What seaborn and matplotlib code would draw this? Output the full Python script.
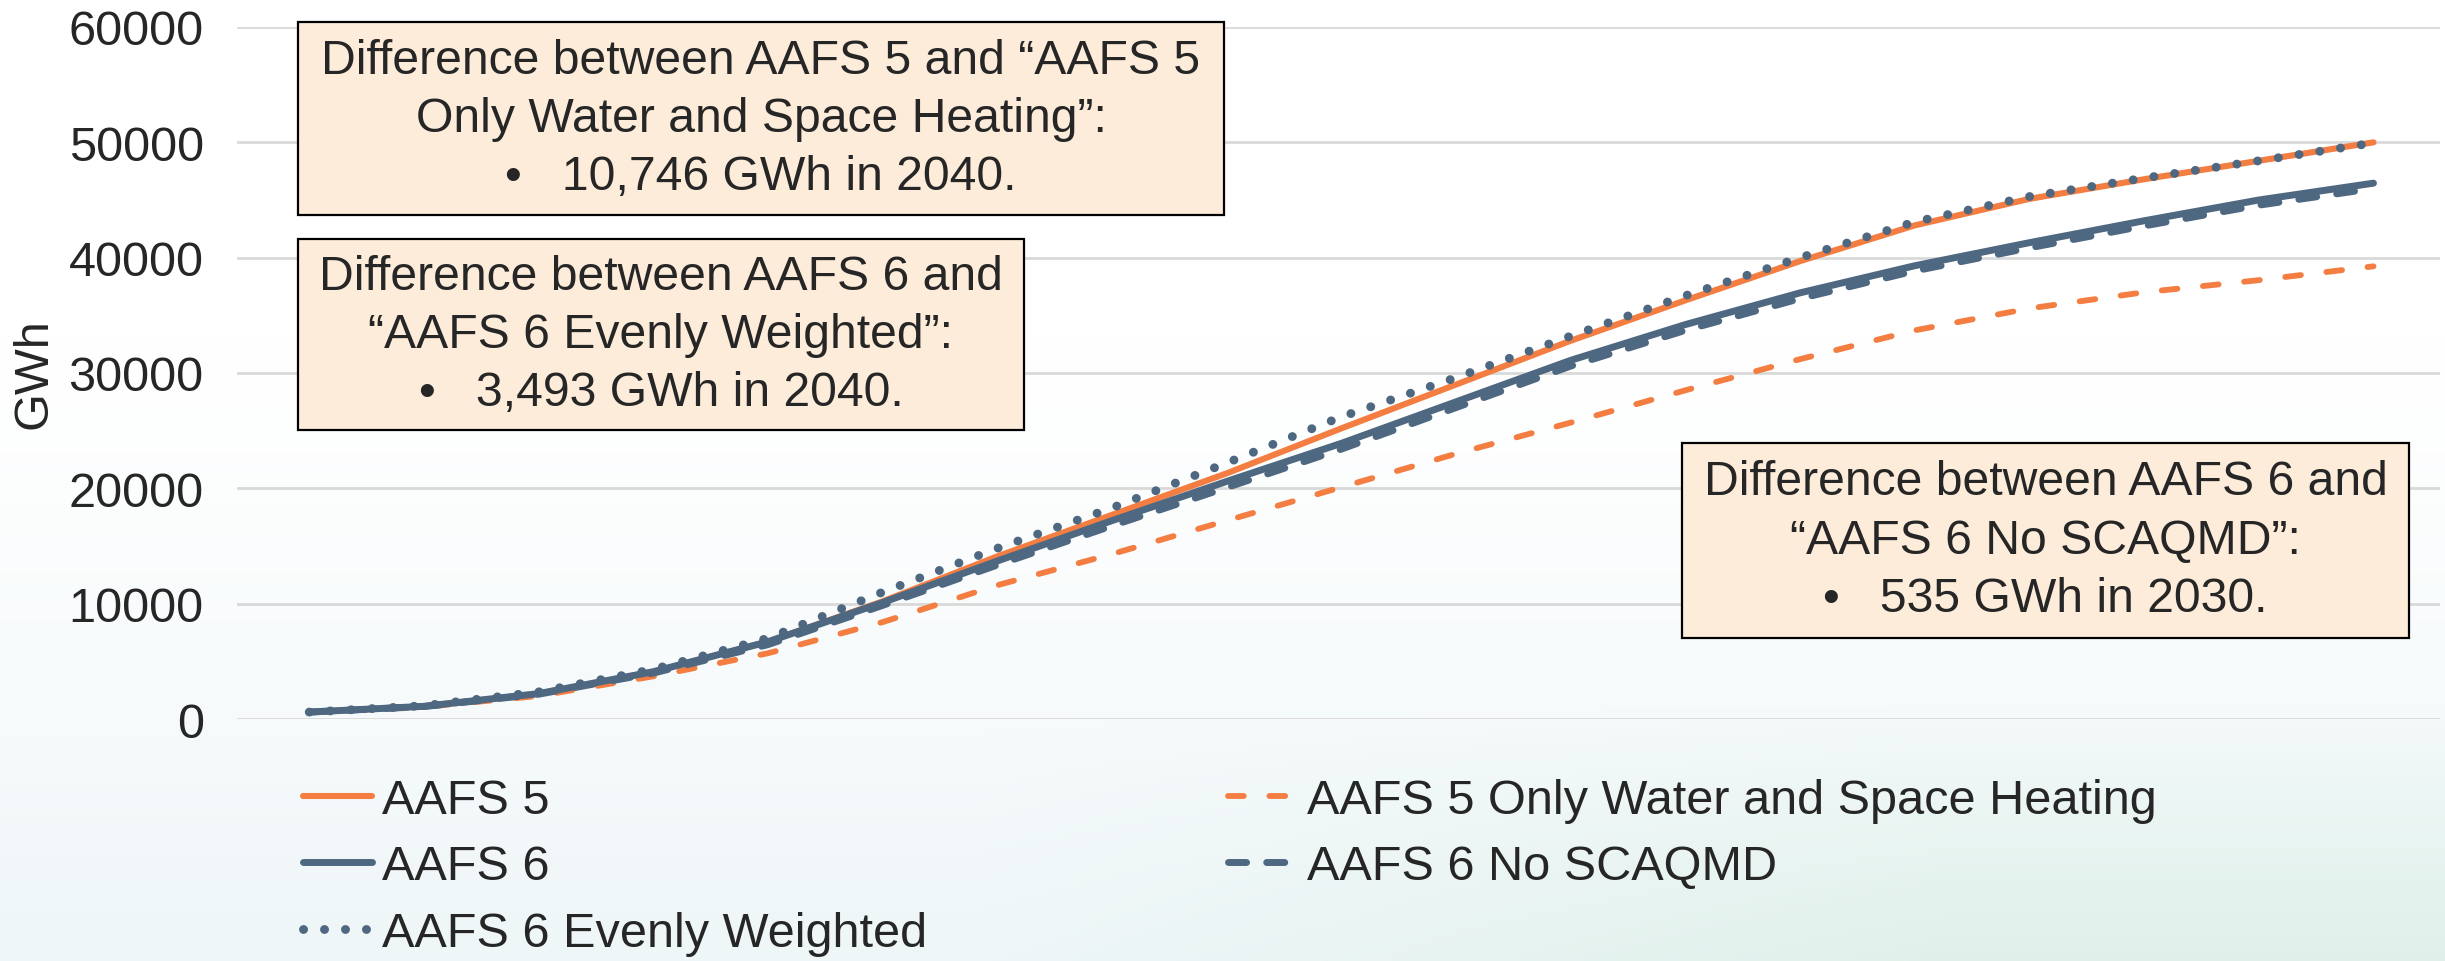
import matplotlib.pyplot as plt
import numpy as np
import pandas as pd
import seaborn as sns
from matplotlib.patches import Rectangle

# --- data (GWh) ---
years = list(range(2022, 2041))
aafs5 = [600, 1100, 2200, 4100, 6700, 10200, 14100, 17700, 21300, 25200, 29000,
         32800, 36300, 39700, 42800, 45100, 46800, 48400, 50000]
aafs5_water_space = [600, 1050, 2000, 3700, 5700, 8400, 11600, 14300, 17200, 20100,
                     23000, 25700, 28500, 31200, 33700, 35600, 37000, 38050, 39250]
aafs6 = [600, 1100, 2200, 4100, 6700, 10100, 13700, 17200, 20600, 23900, 27500,
         31100, 34200, 36950, 39300, 41300, 43200, 45000, 46460]
aafs6_no_scaqmd = [600, 1080, 2150, 3980, 6450, 9850, 13350, 16750, 20065, 23400,
                   27000, 30600, 33700, 36450, 38850, 40850, 42750, 44550, 46000]
aafs6_even = [600, 1150, 2350, 4300, 7000, 11000, 14800, 18300, 22200, 26200, 29600,
              33200, 36700, 40000, 43100, 45300, 46900, 48400, 49950]

series_names = ["AAFS 5", "AAFS 5 Only Water and Space Heating", "AAFS 6 No SCAQMD",
                "AAFS 6", "AAFS 6 Evenly Weighted"]
series_values = [aafs5, aafs5_water_space, aafs6_no_scaqmd, aafs6, aafs6_even]
legend_order = ["AAFS 5", "AAFS 6", "AAFS 6 Evenly Weighted",
                "AAFS 5 Only Water and Space Heating", "AAFS 6 No SCAQMD"]

notes = [
    (["Difference between AAFS 5 and \u201cAAFS 5",
      "Only Water and Space Heating\u201d:",
      "\u2022   10,746 GWh in 2040."], (298, 23, 1224, 216)),
    (["Difference between AAFS 6 and",
      "\u201cAAFS 6 Evenly Weighted\u201d:",
      "\u2022   3,493 GWh in 2040."], (298, 240, 1024, 431)),
    (["Difference between AAFS 6 and",
      "\u201cAAFS 6 No SCAQMD\u201d:",
      "\u2022   535 GWh in 2030."], (1682, 444, 2409, 639)),
]

ORANGE = "#F47D41"
SLATE = "#4F6881"
styles = {
    "AAFS 5": dict(color=ORANGE, linewidth=4.4, linestyle="-", solid_capstyle="round"),
    "AAFS 5 Only Water and Space Heating": dict(color=ORANGE, linewidth=4.2,
                                                linestyle=(0, (2.7, 4.4)), dash_capstyle="round"),
    "AAFS 6 No SCAQMD": dict(color=SLATE, linewidth=5.0,
                             linestyle=(0, (2.6, 2.9)), dash_capstyle="round"),
    "AAFS 6": dict(color=SLATE, linewidth=5.0, linestyle="-", solid_capstyle="round"),
    "AAFS 6 Evenly Weighted": dict(color=SLATE, linewidth=6.4,
                                   linestyle=(0, (0.01, 2.35)), dash_capstyle="round"),
}

df = pd.DataFrame({
    "year": np.tile(years, len(series_names)),
    "GWh": np.concatenate(series_values),
    "scenario": np.repeat(series_names, len(years)),
})

sns.set_style("white")
plt.rcParams["font.family"] = ["Liberation Sans", "DejaVu Sans"]

W, H = 2445, 962
fig = plt.figure(figsize=(W / 100, H / 100), dpi=100)

# soft slide background
bg = fig.add_axes([0, 0, 1, 1], zorder=-10)
yy, xx = np.mgrid[0:1:240j, 0:1:600j]
t = np.clip((yy - 0.35) / 0.65, 0, 1) ** 1.3
top = np.array([1.0, 1.0, 1.0])
bottom = np.array([0.935, 0.965, 0.972])
green = np.array([0.85, 0.935, 0.895])
img = top + (bottom - top) * t[..., None]
g = np.clip((yy - 0.72) / 0.28, 0, 1) * np.clip((xx - 0.4) / 0.4, 0, 1)
img = img + (green - img) * (0.7 * g)[..., None]
bg.imshow(img, aspect="auto", extent=[0, 1, 0, 1], origin="upper")
bg.axis("off")

left, right, top_px, bottom_px = 237, 2440, 28, 720
ax = fig.add_axes([left / W, 1 - bottom_px / H, (right - left) / W, (bottom_px - top_px) / H])
ax.patch.set_alpha(0)

for name in series_names:
    sub = df[df["scenario"] == name]
    sns.lineplot(data=sub, x="year", y="GWh", ax=ax, label=name, **styles[name])

ax.set_xlim(2021.37, 2040.58)
ax.set_ylim(0, 60000)
ax.set_yticks(range(0, 60001, 10000))
ax.set_xticks([])
ax.set_xlabel("")
ax.set_ylabel("")
ax.grid(axis="y", color="#D9D9D9", linewidth=2)
ax.set_axisbelow(True)
sns.despine(ax=ax, left=True, bottom=True)
ax.tick_params(axis="y", length=0, pad=24, labelsize=35)
ax.get_legend().remove()

fig.text(34 / W, 1 - 374 / H, "GWh", rotation=90, ha="center", va="center", fontsize=35)

handles, labels = ax.get_legend_handles_labels()
hmap = dict(zip(labels, handles))
fig.legend([hmap[k] for k in legend_order], legend_order, loc="upper left",
           bbox_to_anchor=(303 / W, 1 - 779 / H), ncol=2, frameon=False, fontsize=35,
           handlelength=1.42, handletextpad=0.2, columnspacing=6.2, labelspacing=0.44,
           borderpad=0, borderaxespad=0)

# annotation boxes
for lines, (x0, y0, x1, y1) in notes:
    fig.patches.append(Rectangle((x0 / W, 1 - y1 / H), (x1 - x0) / W, (y1 - y0) / H,
                                 transform=fig.transFigure, facecolor="#FDECDA",
                                 edgecolor="black", linewidth=1.6, zorder=5))
    cx, cy = (x0 + x1) / 2, (y0 + y1) / 2
    for i, line in enumerate(lines):
        fig.text(cx / W, 1 - (cy + (i - 1) * 58.5) / H, line, ha="center", va="center",
                 fontsize=34.7, zorder=6)

fig.savefig("out.png", dpi=100)
